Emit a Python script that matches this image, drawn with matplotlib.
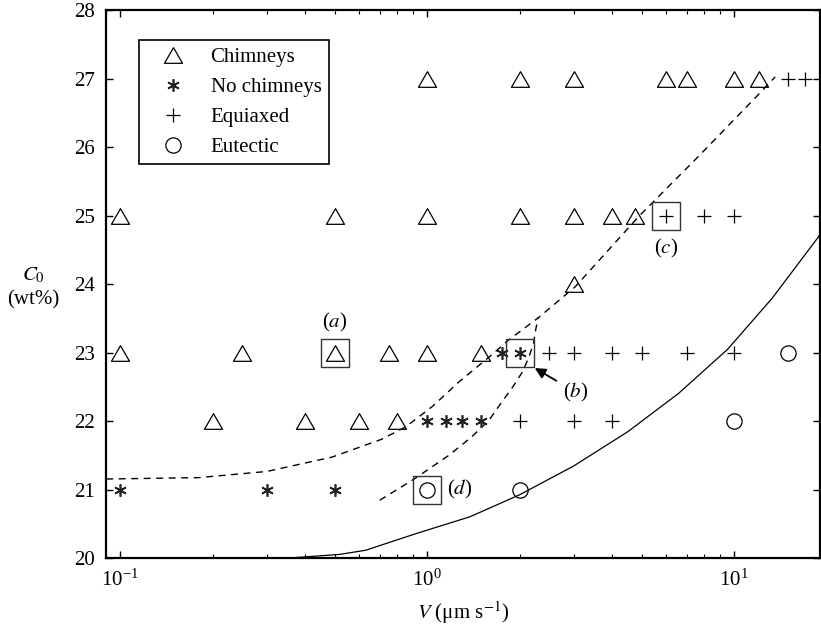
import matplotlib
matplotlib.use("Agg")
import matplotlib.pyplot as plt
from matplotlib.path import Path

plt.rcParams['font.family'] = ['Liberation Serif', 'DejaVu Serif']
plt.rcParams['mathtext.fontset'] = 'stix'
plt.rcParams['font.size'] = 15

# chimneys (triangles)
chim_v = [1, 2, 3, 6, 7, 10, 12,
          0.1, 0.5, 1, 2, 3, 4, 4.75,
          3,
          0.1, 0.25, 0.5, 0.75, 1, 1.5,
          0.2, 0.4, 0.6, 0.8]
chim_c = [27, 27, 27, 27, 27, 27, 27,
          25, 25, 25, 25, 25, 25, 25,
          24,
          23, 23, 23, 23, 23, 23,
          22, 22, 22, 22]

# no chimneys (asterisks)
nochim_v = [1.75, 2, 1.0, 1.15, 1.3, 1.5, 0.1, 0.3, 0.5]
nochim_c = [23, 23, 22, 22, 22, 22, 21, 21, 21]

# equiaxed (plus)
equi_v = [15, 17, 6, 8, 10, 2.5, 3, 4, 5, 7, 10, 2, 3, 4]
equi_c = [27, 27, 25, 25, 25, 23, 23, 23, 23, 23, 23, 22, 22, 22]

# eutectic (circles)
eut_v = [15, 10, 1, 2]
eut_c = [23, 22, 21, 21]

# boxed cases
box_v = [0.5, 2, 6, 1]
box_c = [23, 23, 25, 21]

# dashed boundaries
bnd1_v = [0.09, 0.18, 0.3, 0.49, 0.71, 0.85, 1.04, 1.27, 1.6, 1.83, 2.31, 3.04, 4.88, 7.65, 11.8, 13.6]
bnd1_c = [21.16, 21.18, 21.27, 21.48, 21.74, 21.92, 22.22, 22.58, 22.95, 23.18, 23.52, 23.97, 24.99, 25.87, 26.74, 27.03]
bnd2_v = [0.70, 0.9, 1.18, 1.40, 1.59, 1.76, 1.91, 2.04, 2.14, 2.22, 2.26, 2.3]
bnd2_c = [20.85, 21.15, 21.51, 21.78, 22.02, 22.3, 22.52, 22.72, 22.93, 23.14, 23.36, 23.52]

# solid (eutectic) curve
eut_line_v = [0.34, 0.52, 0.63, 0.93, 1.38, 2.0, 3.0, 4.5, 6.59, 9.5, 13.3, 19]
eut_line_c = [20.0, 20.06, 20.12, 20.37, 20.61, 20.93, 21.35, 21.85, 22.41, 23.05, 23.8, 24.72]

tri = Path([(-0.5, -0.433), (0.5, -0.433), (0, 0.433), (-0.5, -0.433)],
           [Path.MOVETO, Path.LINETO, Path.LINETO, Path.CLOSEPOLY])

fig = plt.figure(figsize=(8.21, 6.27), dpi=100)
ax = fig.add_axes([0.129, 0.1093, 0.8695, 0.874])

ax.plot(bnd1_v, bnd1_c, color='black', lw=1.0, ls=(0, (5, 4)))
ax.plot(bnd2_v, bnd2_c, color='black', lw=1.0, ls=(0, (5, 4)))
ax.plot(eut_line_v, eut_line_c, color='black', lw=0.9)

ax.plot(chim_v, chim_c, ls='none', marker=tri, ms=13, mfc='none', mec='black', mew=0.9,
        label='Chimneys')
ax.plot(nochim_v, nochim_c, ls='none', marker=(6, 2, 0), ms=9, mec='#222222', mew=1.2,
        label='No chimneys')
ax.plot(equi_v, equi_c, ls='none', marker='+', ms=10, mec='black', mew=0.9,
        label='Equiaxed')
ax.plot(eut_v, eut_c, ls='none', marker='o', ms=11, mfc='none', mec='black', mew=0.9,
        label='Eutectic')
ax.plot(box_v, box_c, ls='none', marker='s', ms=20, mfc='none', mec='#333333', mew=1.0)

ax.text(0.5, 23.45, r'($\it{a}$)', ha='center', va='center')
ax.annotate(r'($\it{b}$)', xy=(2.24, 22.78), xytext=(3.04, 22.43), ha='center', va='center',
            arrowprops=dict(arrowstyle='-|>', color='black', lw=1.3, mutation_scale=16,
                            shrinkA=3, shrinkB=0))
ax.text(6, 24.53, r'($\it{c}$)', ha='center', va='center')
ax.text(1.275, 21.0, r'($\it{d}$)', ha='center', va='center')

ax.set_xscale('log')
ax.set_xlim(0.0898, 19)
ax.set_ylim(20, 28)
ax.set_yticks(range(20, 29))
ax.tick_params(which='both', direction='in', top=True, right=True)
ax.tick_params(which='major', length=5, width=1)
ax.tick_params(which='minor', length=3, width=0.8)
ax.tick_params(axis='y', pad=8)
ax.tick_params(axis='x', pad=8)
for s in ax.spines.values():
    s.set_linewidth(1.6)

ax.set_xlabel(r'$V$ (μm s$^{-1}$)', labelpad=6)
ax.text(-0.102, 0.517, r'$C_0$', transform=ax.transAxes, ha='center', va='center')
ax.text(-0.102, 0.472, '(wt%)', transform=ax.transAxes, ha='center', va='center')

leg = ax.legend(loc='upper left', bbox_to_anchor=(0.046, 0.946), borderaxespad=0,
                fancybox=False, edgecolor='black', framealpha=1, numpoints=1,
                handlelength=2.6, handletextpad=0.5, labelspacing=0.5, borderpad=0.35)
leg.get_frame().set_linewidth(1.2)

fig.savefig('out.png', dpi=100)
